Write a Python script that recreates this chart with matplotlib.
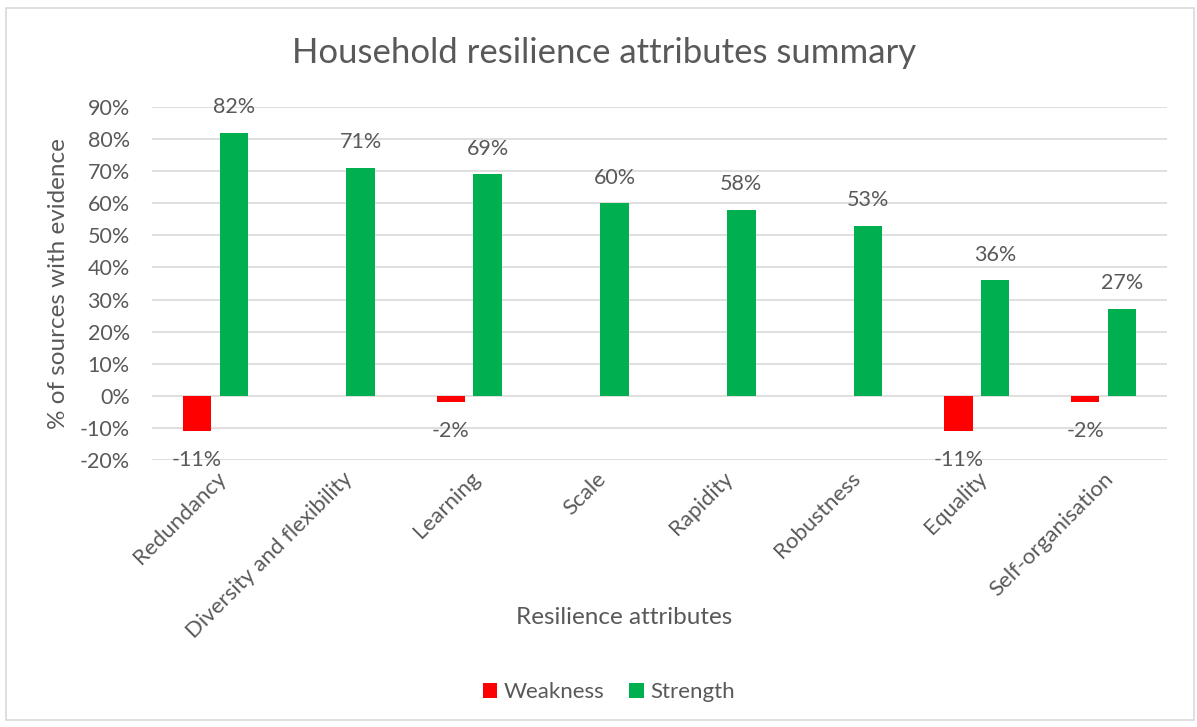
import matplotlib
matplotlib.use("Agg")
import matplotlib.pyplot as plt
import numpy as np
from matplotlib.patches import Rectangle
from matplotlib.ticker import FuncFormatter

plt.rcParams['font.family'] = ['Lato', 'DejaVu Sans']

categories = ["Redundancy", "Diversity and flexibility", "Learning", "Scale",
              "Rapidity", "Robustness", "Equality", "Self-organisation"]
weakness = [-11, 0, -2, 0, 0, 0, -11, -2]
strength = [82, 71, 69, 60, 58, 53, 36, 27]
yticks = list(range(-20, 91, 10))

TXT = "#595959"
RED = "#FF0000"
GREEN = "#00B050"

fig = plt.figure(figsize=(11.97, 7.27), dpi=100)
fig.patches.append(Rectangle((6/1197, 1 - 720/727), 1188/1197, 712/727,
                             transform=fig.transFigure, fill=False,
                             edgecolor="#D9D9D9", linewidth=1.2, zorder=-1))
ax = fig.add_axes([152/1197, 1 - 460/727, (1167 - 152)/1197, (460 - 107)/727])

x = np.arange(len(categories))
w = 0.225
off = 0.145
bw = ax.bar(x - off, weakness, w, color=RED, label="Weakness", zorder=3)
bs = ax.bar(x + off, strength, w, color=GREEN, label="Strength", zorder=3)

for xi, v in zip(x, weakness):
    if v != 0:
        ax.annotate(f"{v}%", (xi - off, v), xytext=(0, -21), textcoords="offset points",
                    ha="center", va="center", fontsize=15.5, color=TXT)
for xi, v in zip(x, strength):
    ax.annotate(f"{v}%", (xi + off, v), xytext=(0, 18.5), textcoords="offset points",
                ha="center", va="center", fontsize=15.5, color=TXT)

ax.set_xlim(-0.5, len(categories) - 0.5)
ax.set_ylim(-20, 90)
ax.set_yticks(yticks)
ax.yaxis.set_major_formatter(FuncFormatter(lambda v, p: f"{int(round(v))}%"))
ax.grid(axis="y", color="#D9D9D9", linewidth=1.2, zorder=0)
for s in ax.spines.values():
    s.set_visible(False)
ax.tick_params(axis="y", length=0, labelsize=15.5, labelcolor=TXT, pad=16)
ax.set_xticks(x)
ax.set_xticklabels(categories, rotation=45, ha="right", rotation_mode="anchor")
ax.tick_params(axis="x", length=0, labelsize=16, labelcolor=TXT, pad=6)

ax.set_ylabel("% of sources with evidence", fontsize=17.5, color=TXT, labelpad=8)
fig.text(624/1197, 1 - 617/727, "Resilience attributes", ha="center", va="center",
         fontsize=17.5, color=TXT)
fig.text(604/1197, 1 - 53/727, "Household resilience attributes summary", ha="center",
         va="center", fontsize=25, color=TXT)

leg = fig.legend(handles=[bw, bs], labels=["Weakness", "Strength"], loc="center",
                 bbox_to_anchor=(609/1197, 1 - 692/727), ncol=2, frameon=False,
                 fontsize=16, handlelength=0.65, handleheight=0.65, columnspacing=1.1,
                 handletextpad=0.3)
for t in leg.get_texts():
    t.set_color(TXT)

fig.savefig("out.png", dpi=100)
